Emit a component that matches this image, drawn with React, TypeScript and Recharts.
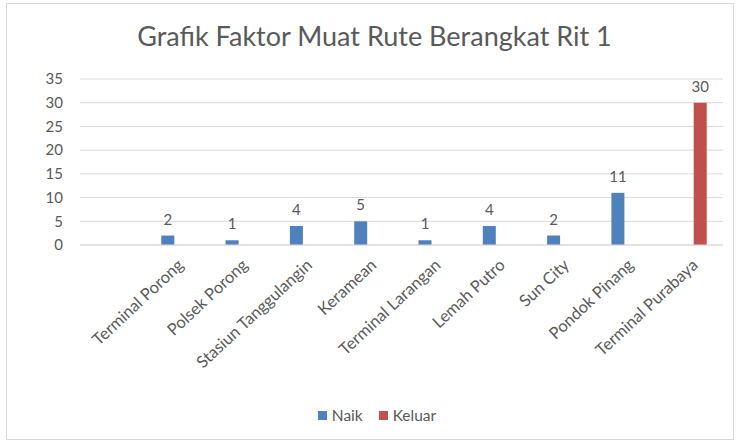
import React from 'react';
import { BarChart, Bar, XAxis, YAxis, CartesianGrid, LabelList } from 'recharts';

const categories = [
  '',
  'Terminal Porong',
  'Polsek Porong',
  'Stasiun Tanggulangin',
  'Keramean',
  'Terminal Larangan',
  'Lemah Putro',
  'Sun City',
  'Pondok Pinang',
  'Terminal Purabaya',
];
const naik = [null, 2, 1, 4, 5, 1, 4, 2, 11, null];
const keluar = [null, null, null, null, null, null, null, null, null, 30];
const yTicks = [0, 5, 10, 15, 20, 25, 30, 35];

const FONT = 'Lato, "Open Sans", sans-serif';
const TEXT = '#595959';
const BLUE = '#4F81BD';
const RED = '#C0504D';

const data = categories.map((name, i) => ({ name, naik: naik[i], keluar: keluar[i] }));

function RotatedTick({ x, y, payload }: any) {
  const tx = x + 4;
  const ty = y + 9;
  return (
    <text
      x={tx}
      y={ty}
      transform={`rotate(-43, ${tx}, ${ty})`}
      textAnchor="end"
      dominantBaseline="central"
      fill={TEXT}
      fontSize={16.5}
      fontFamily={FONT}
    >
      {payload.value}
    </text>
  );
}

function ValueLabel({ x, y, width, value }: any) {
  if (value == null) return null;
  return (
    <text x={x + width / 2} y={y - 11} textAnchor="middle" fill={TEXT} fontSize={15} fontFamily={FONT}>
      {value}
    </text>
  );
}

export default function App() {
  return (
    <div style={{ position: 'absolute', left: 0, top: 0, width: 741, height: 445, background: '#fff', fontFamily: FONT }}>
      <div
        style={{
          position: 'absolute', left: 6, top: 3, width: 728, height: 437,
          border: '1px solid #d9d9d9', boxSizing: 'border-box',
        }}
      />
      <div
        style={{
          position: 'absolute', left: 0, top: 20, width: 749, textAlign: 'center',
          fontSize: 27, color: TEXT, lineHeight: '32px',
        }}
      >
        Grafik Faktor Muat Rute Berangkat Rit 1
      </div>
      <BarChart
        width={741}
        height={445}
        data={data}
        margin={{ top: 79, right: 18, bottom: 0, left: 0 }}
        barSize={13}
        barGap={5}
        style={{ position: 'absolute', left: 0, top: 0 }}
      >
        <CartesianGrid vertical={false} stroke="#d9d9d9" />
        <XAxis
          dataKey="name"
          interval={0}
          axisLine={{ stroke: '#d9d9d9' }}
          tickLine={false}
          height={200}
          tick={<RotatedTick />}
        />
        <YAxis
          width={80}
          domain={[0, 35]}
          ticks={yTicks}
          axisLine={false}
          tickLine={false}
          tickMargin={11}
          tick={{ fill: TEXT, fontSize: 15, fontFamily: FONT }}
        />
        <Bar dataKey="naik" name="Naik" fill={BLUE} isAnimationActive={false}>
          <LabelList dataKey="naik" content={<ValueLabel />} />
        </Bar>
        <Bar dataKey="keluar" name="Keluar" fill={RED} isAnimationActive={false}>
          <LabelList dataKey="keluar" content={<ValueLabel />} />
        </Bar>
      </BarChart>
      <div
        style={{
          position: 'absolute', left: 0, top: 405, width: 754, display: 'flex',
          justifyContent: 'center', alignItems: 'center', fontSize: 15.5, lineHeight: '20px', color: TEXT,
        }}
      >
        <span style={{ display: 'inline-block', width: 9, height: 9, background: BLUE, marginRight: 5 }} />
        <span style={{ marginRight: 16 }}>Naik</span>
        <span style={{ display: 'inline-block', width: 9, height: 9, background: RED, marginRight: 5 }} />
        <span>Keluar</span>
      </div>
    </div>
  );
}
